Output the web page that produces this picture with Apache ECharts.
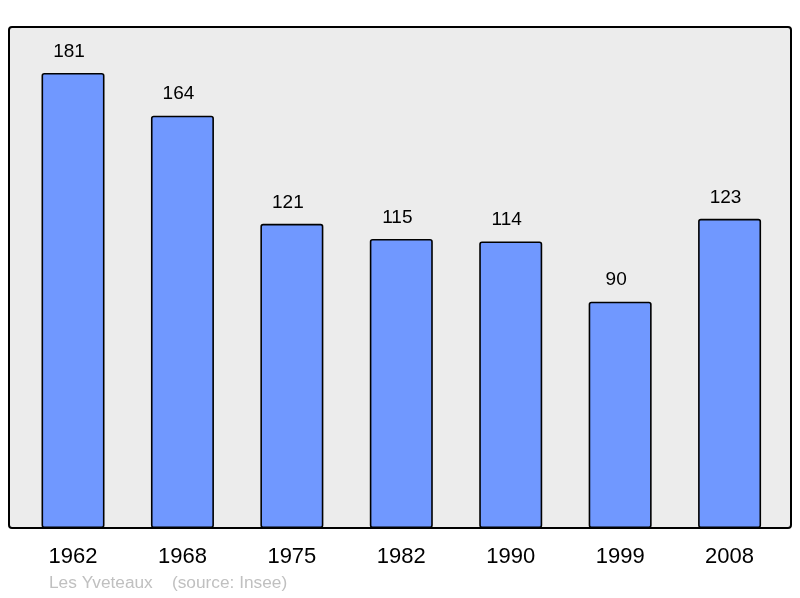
<!DOCTYPE html>
<html><head><meta charset="utf-8">
<script src="https://cdn.jsdelivr.net/npm/echarts@6/dist/echarts.min.js"></script>
<style>html,body{margin:0;padding:0;background:#fff}#c{width:800px;height:598px}</style>
</head><body><div id="c"></div>
<script>
const categories = ['1962','1968','1975','1982','1990','1999','2008'];
const population = [181,164,121,115,114,90,123];
const footerText = 'Les Yveteaux    (source: Insee)';

const chart = echarts.init(document.getElementById('c'), null, {renderer:'canvas'});
chart.setOption({
  animation:false,
  backgroundColor:'#ffffff',
  textStyle:{fontFamily:'Liberation Sans, Arial, sans-serif'},
  grid:[
    {left:18.3, top:27, width:766, height:501, containLabel:false}
  ],
  graphic:[
    {type:'rect', z:-1, shape:{x:9, y:27, width:782, height:501, r:3},
     style:{fill:'#ececec', stroke:'#000', lineWidth:2}},
    {type:'text', left:49, top:575, style:{text:footerText, fill:'#c0c0c0', font:'17.3px Liberation Sans, Arial, sans-serif'}}
  ],
  xAxis:{type:'category', data:categories, axisLine:{show:false}, axisTick:{show:false},
    axisLabel:{color:'#000', fontSize:22, margin:18, fontFamily:'Liberation Sans, Arial, sans-serif'}},
  yAxis:{type:'value', min:0, max:199.3, show:false, splitLine:{show:false}},
  series:[{
    type:'bar', data:population, barWidth:63,
    itemStyle:{color:'#7098ff', borderColor:'#000', borderWidth:1.6, borderRadius:2},
    label:{show:true, position:'top', distance:12, offset:[-4,0], color:'#000', fontSize:19, fontFamily:'Liberation Sans, Arial, sans-serif'}
  }]
});
</script></body></html>
